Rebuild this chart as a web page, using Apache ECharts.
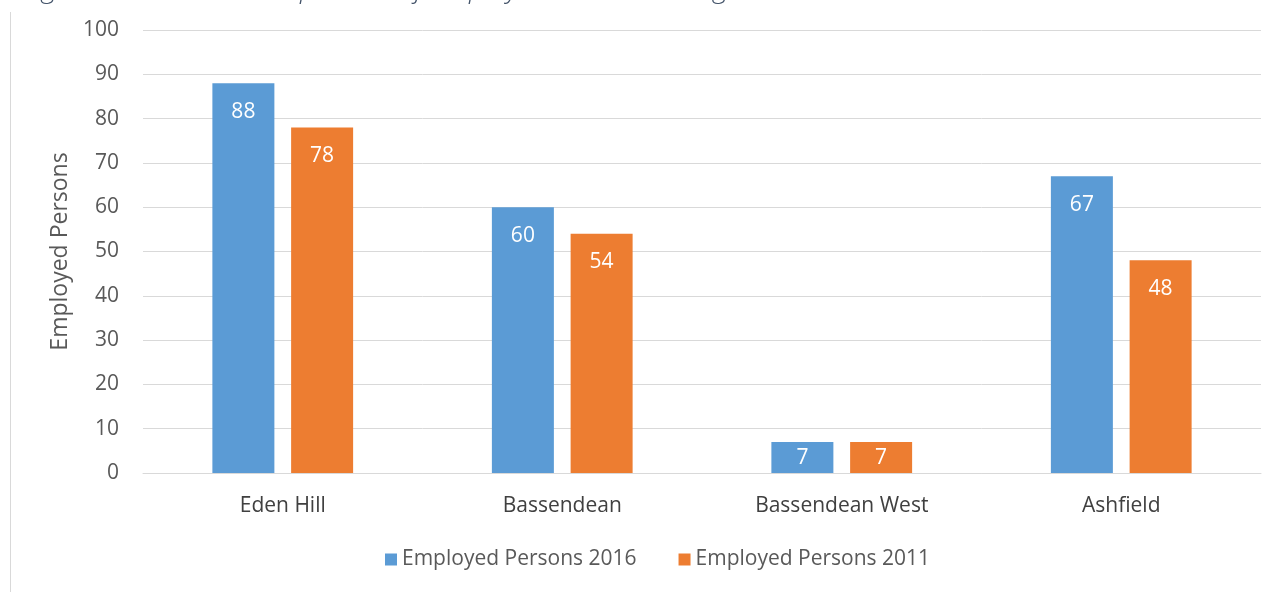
<!DOCTYPE html>
<html>
<head>
<meta charset="utf-8">
<script src="https://cdn.jsdelivr.net/npm/echarts@6/dist/echarts.min.js"></script>
<style>html,body{margin:0;padding:0;background:#fff;}#c{width:1274px;height:592px;}</style>
</head>
<body>
<div id="c"></div>
<script>
const categories = ['Eden Hill', 'Bassendean', 'Bassendean West', 'Ashfield'];
const seriesNames = ['Employed Persons 2016', 'Employed Persons 2011'];
const values2016 = [88, 60, 7, 67];
const values2011 = [78, 54, 7, 48];
const yTicks = { min: 0, max: 100, interval: 10 };
const yAxisTitle = 'Employed Persons';
const captionText = 'Figure 11: Suburb Comparison of Employed Persons Living in the Town';

const chart = echarts.init(document.getElementById('c'), null, { renderer: 'canvas' });
const font = 'Open Sans';
const labelStyle = {
  show: true, position: 'insideTop', distance: 18,
  color: '#ffffff', fontSize: 21, fontFamily: font
};
// short bars: place label closer to the bar end
const toData = arr => arr.map(v => v < 10 ? { value: v, label: { distance: 6 } } : v);
chart.setOption({
  animation: false,
  backgroundColor: '#ffffff',
  textStyle: { fontFamily: font },
  graphic: [
    { type: 'line', shape: { x1: 10.5, y1: 12, x2: 10.5, y2: 592 }, style: { stroke: '#d9d9d9', lineWidth: 1 } },
    { type: 'text', left: 22, top: -25, style: { text: captionText, font: 'italic 300 28px "Open Sans"', fill: '#44546a' } }
  ],
  grid: { left: 143, right: 13, top: 30, bottom: 119, containLabel: false },
  legend: {
    data: seriesNames, bottom: 17, left: 380, icon: 'rect',
    itemWidth: 12, itemHeight: 12, itemGap: 42,
    textStyle: { color: '#595959', fontSize: 21, fontFamily: font, padding: [0, 0, 0, 0] }
  },
  xAxis: {
    type: 'category', data: categories,
    axisLine: { lineStyle: { color: '#d9d9d9', width: 1 } },
    axisTick: { show: false },
    axisLabel: { color: '#404040', fontSize: 21, fontFamily: font, margin: 23 }
  },
  yAxis: {
    type: 'value', min: yTicks.min, max: yTicks.max, interval: yTicks.interval,
    name: yAxisTitle, nameLocation: 'middle', nameGap: 69, nameRotate: 90,
    nameTextStyle: { color: '#595959', fontSize: 23, fontFamily: font },
    axisLine: { show: false }, axisTick: { show: false },
    axisLabel: { color: '#595959', fontSize: 21, fontFamily: font, margin: 24 },
    splitLine: { lineStyle: { color: '#d9d9d9', width: 1 } }
  },
  series: [
    { name: seriesNames[0], type: 'bar', data: toData(values2016), barWidth: 62, barGap: '27%',
      itemStyle: { color: '#5b9bd5' }, label: labelStyle },
    { name: seriesNames[1], type: 'bar', data: toData(values2011), barWidth: 62, barGap: '27%',
      itemStyle: { color: '#ed7d31' }, label: labelStyle }
  ]
});
</script>
</body>
</html>
